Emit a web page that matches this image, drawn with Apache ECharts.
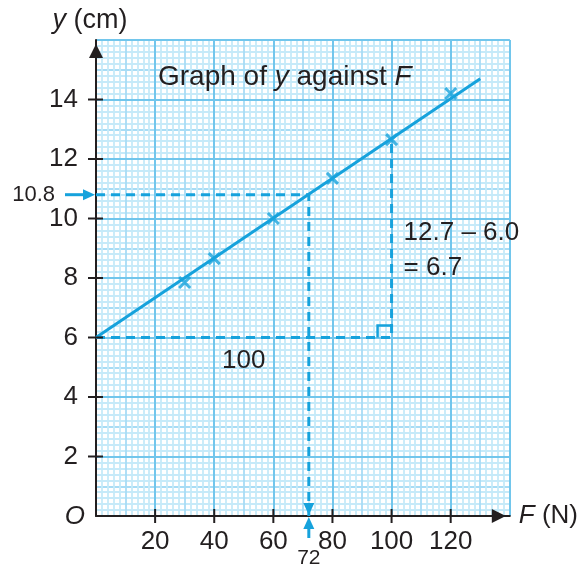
<!DOCTYPE html>
<html>
<head>
<meta charset="utf-8">
<script src="https://cdn.jsdelivr.net/npm/echarts@6/dist/echarts.min.js"></script>
<style>html,body{margin:0;padding:0;background:#fff}#c{width:581px;height:570px}</style>
</head>
<body>
<div id="c"></div>
<script>
// ---- data ----
const crossF = [30, 40, 60, 80, 100, 120];
const crossY = [7.85, 8.65, 10.0, 11.35, 12.65, 14.2];
const fitF = [0, 130];
const fitY = [6.0, 14.7];
const readF = 72;
const readY = 10.8;
const runF = [0, 100];
const riseY = [6.0, 12.7];
const xTicks = [20, 40, 60, 80, 100, 120];
const yTicks = [2, 4, 6, 8, 10, 12, 14];
const xMax = 140, yMax = 16;
const titleParts = ['Graph of ', 'y', ' against ', 'F'];
const runLabel = '100';
const riseLabel1 = '12.7 – 6.0';
const riseLabel2 = '= 6.7';

// ---- style ----
const BLUE = '#16a2dc';
const INK = '#231f20';
const FONT = '"Liberation Sans", Arial, sans-serif';
const MINOR = '#c6eaf9';
const MEDIUM = '#a8dcf5';
const MAJOR = '#72c6ec';
const TRI = 'path://M5,0L10,10L0,10Z';

const chart = echarts.init(document.getElementById('c'), null, {renderer: 'canvas'});

const readingPath = [[0, readY], [readF, readY], [readF, 0]];
const slopePath = [[runF[0], riseY[0]], [runF[1], riseY[0]], [runF[1], riseY[1]]];

function txt(text, x, y, size, align, vAlign, extra) {
  return {type: 'text', style: Object.assign({text: text, x: x, y: y, fill: INK,
    font: size + 'px ' + FONT, align: align, verticalAlign: vAlign}, extra || {})};
}

const option = {
  animation: false,
  backgroundColor: '#fff',
  title: {
    text: '{n|' + titleParts[0] + '}{i|' + titleParts[1] + '}{n|' + titleParts[2] + '}{i|' + titleParts[3] + '}',
    left: 158, top: 63, padding: 0,
    textStyle: {
      fontWeight: 'normal',
      rich: {
        n: {fontFamily: FONT, fontSize: 28, color: INK, fontWeight: 'normal'},
        i: {fontFamily: FONT, fontSize: 28, color: INK, fontStyle: 'italic', fontWeight: 'normal'}
      }
    }
  },
  grid: {left: 96, right: 69, top: 40, bottom: 54, containLabel: false},
  xAxis: [
    {
      type: 'value', min: 0, max: xMax, interval: 10, z: 0,
      axisLine: {show: false}, axisTick: {show: false}, axisLabel: {show: false},
      splitLine: {show: true, lineStyle: {color: MEDIUM, width: 1.8}},
      minorTick: {show: false, splitNumber: 5},
      minorSplitLine: {show: true, lineStyle: {color: MINOR, width: 1.8}}
    },
    {
      type: 'value', min: 0, max: xMax, interval: 20, z: 1, position: 'bottom',
      axisLine: {show: true, onZero: false, lineStyle: {color: INK, width: 2},
        symbol: ['none', TRI], symbolSize: [14, 20], symbolOffset: [0, -11]},
      axisTick: {show: false},
      axisLabel: {color: INK, fontFamily: FONT, fontSize: 26, margin: 13,
        formatter: v => (v === 0 || v === xMax) ? '' : String(v)},
      splitLine: {show: true, lineStyle: {color: MAJOR, width: 2}},
      name: '{i|F} (N)', nameLocation: 'end', nameGap: 9,
      nameTextStyle: {color: INK, fontFamily: FONT, fontSize: 26, verticalAlign: 'middle',
        rich: {i: {fontStyle: 'italic', fontFamily: FONT, fontSize: 26, color: INK}}}
    }
  ],
  yAxis: [
    {
      type: 'value', min: 0, max: yMax, interval: 1, z: 0,
      axisLine: {show: false}, axisTick: {show: false}, axisLabel: {show: false},
      splitLine: {show: true, lineStyle: {color: MEDIUM, width: 1.8}},
      minorTick: {show: false, splitNumber: 5},
      minorSplitLine: {show: true, lineStyle: {color: MINOR, width: 1.8}}
    },
    {
      type: 'value', min: 0, max: yMax, interval: 2, z: 1, position: 'left',
      axisLine: {show: true, onZero: false, lineStyle: {color: INK, width: 2},
        symbol: ['none', TRI], symbolSize: [14, 20], symbolOffset: [0, -11]},
      axisTick: {show: false},
      axisLabel: {color: INK, fontFamily: FONT, fontSize: 26, margin: 18,
        formatter: v => (v === 0 || v === yMax) ? '' : String(v)},
      splitLine: {show: true, lineStyle: {color: MAJOR, width: 2}},
      name: '{i|y} (cm)', nameLocation: 'end', nameGap: 6,
      nameTextStyle: {color: INK, fontFamily: FONT, fontSize: 27, align: 'center', padding: [0, 12, 0, 0],
        rich: {i: {fontStyle: 'italic', fontFamily: FONT, fontSize: 27, color: INK}}}
    }
  ],
  series: [
    { // guide: reading 72 from 10.8
      type: 'line', xAxisIndex: 1, yAxisIndex: 1, z: 3,
      data: readingPath, showSymbol: false, symbol: 'none', silent: true,
      lineStyle: {color: BLUE, width: 3, type: [9, 6]}
    },
    { // gradient triangle
      type: 'line', xAxisIndex: 1, yAxisIndex: 1, z: 3,
      data: slopePath, showSymbol: false, symbol: 'none', silent: true,
      lineStyle: {color: BLUE, width: 3, type: [9, 6]}
    },
    { // best-fit line
      type: 'line', xAxisIndex: 1, yAxisIndex: 1, z: 4,
      data: fitF.map((f, i) => [f, fitY[i]]), showSymbol: false, symbol: 'none',
      lineStyle: {color: BLUE, width: 3}
    },
    { // measured points
      type: 'scatter', xAxisIndex: 1, yAxisIndex: 1, z: 5,
      data: crossF.map((f, i) => [f, crossY[i]]),
      symbol: 'path://M0,0L10,10M10,0L0,10', symbolSize: 11,
      itemStyle: {color: 'none', borderColor: BLUE, borderWidth: 3}
    },
    { // axis ticks crossing the axes
      type: 'custom', xAxisIndex: 1, yAxisIndex: 1, z: 6, clip: false, silent: true,
      data: xTicks.map(v => [v, 0, 0]).concat(yTicks.map(v => [0, v, 1])),
      renderItem: function (params, api) {
        const p = api.coord([api.value(0), api.value(1)]);
        const vert = api.value(2) === 0;
        return {type: 'line',
          shape: vert ? {x1: p[0], y1: p[1] - 7, x2: p[0], y2: p[1] + 7}
                      : {x1: p[0] - 8, y1: p[1], x2: p[0] + 7, y2: p[1]},
          style: {stroke: INK, lineWidth: 2}};
      }
    },
    { // reading annotation: arrows and values
      type: 'custom', xAxisIndex: 1, yAxisIndex: 1, z: 7, clip: false, silent: true,
      data: [[readF, readY]],
      renderItem: function (params, api) {
        const f = api.value(0), y = api.value(1);
        const p = api.coord([f, y]);
        const o = api.coord([0, 0]);
        return {type: 'group', children: [
          {type: 'line', shape: {x1: o[0] - 31, y1: p[1], x2: o[0] - 10, y2: p[1]}, style: {stroke: BLUE, lineWidth: 3}},
          {type: 'polygon', shape: {points: [[o[0] - 1, p[1]], [o[0] - 13, p[1] - 5.5], [o[0] - 13, p[1] + 5.5]]}, style: {fill: BLUE}},
          txt(String(y), o[0] - 41, p[1], 22, 'right', 'middle'),
          {type: 'polygon', shape: {points: [[p[0], o[1] - 1], [p[0] - 5.5, o[1] - 13], [p[0] + 5.5, o[1] - 13]]}, style: {fill: BLUE}},
          {type: 'polygon', shape: {points: [[p[0], o[1] + 1], [p[0] - 5.5, o[1] + 13], [p[0] + 5.5, o[1] + 13]]}, style: {fill: BLUE}},
          {type: 'line', shape: {x1: p[0], y1: o[1] + 10, x2: p[0], y2: o[1] + 22}, style: {stroke: BLUE, lineWidth: 3}},
          txt(String(f), p[0], o[1] + 42, 21, 'center', 'middle'),
          txt('O', o[0] - 11, o[1] + 1, 26, 'right', 'middle', {font: 'italic 26px ' + FONT})
        ]};
      }
    },
    { // gradient annotation
      type: 'custom', xAxisIndex: 1, yAxisIndex: 1, z: 7, clip: false, silent: true,
      data: [[runF[1], riseY[0], runF[0], riseY[1]]],
      renderItem: function (params, api) {
        const c = api.coord([api.value(0), api.value(1)]);
        const mid = api.coord([(api.value(0) + api.value(2)) / 2, (api.value(1) + api.value(3)) / 2]);
        return {type: 'group', children: [
          {type: 'polyline', shape: {points: [[c[0] - 14, c[1]], [c[0] - 14, c[1] - 12], [c[0], c[1] - 12]]},
            style: {stroke: BLUE, lineWidth: 2.5, fill: null}},
          txt(runLabel, mid[0], c[1] + 23, 26, 'center', 'middle'),
          txt(riseLabel1, c[0] + 12, mid[1] - 5, 26, 'left', 'middle'),
          txt(riseLabel2, c[0] + 12, mid[1] + 30, 26, 'left', 'middle')
        ]};
      }
    }
  ]
};
chart.setOption(option);
</script>
</body>
</html>
